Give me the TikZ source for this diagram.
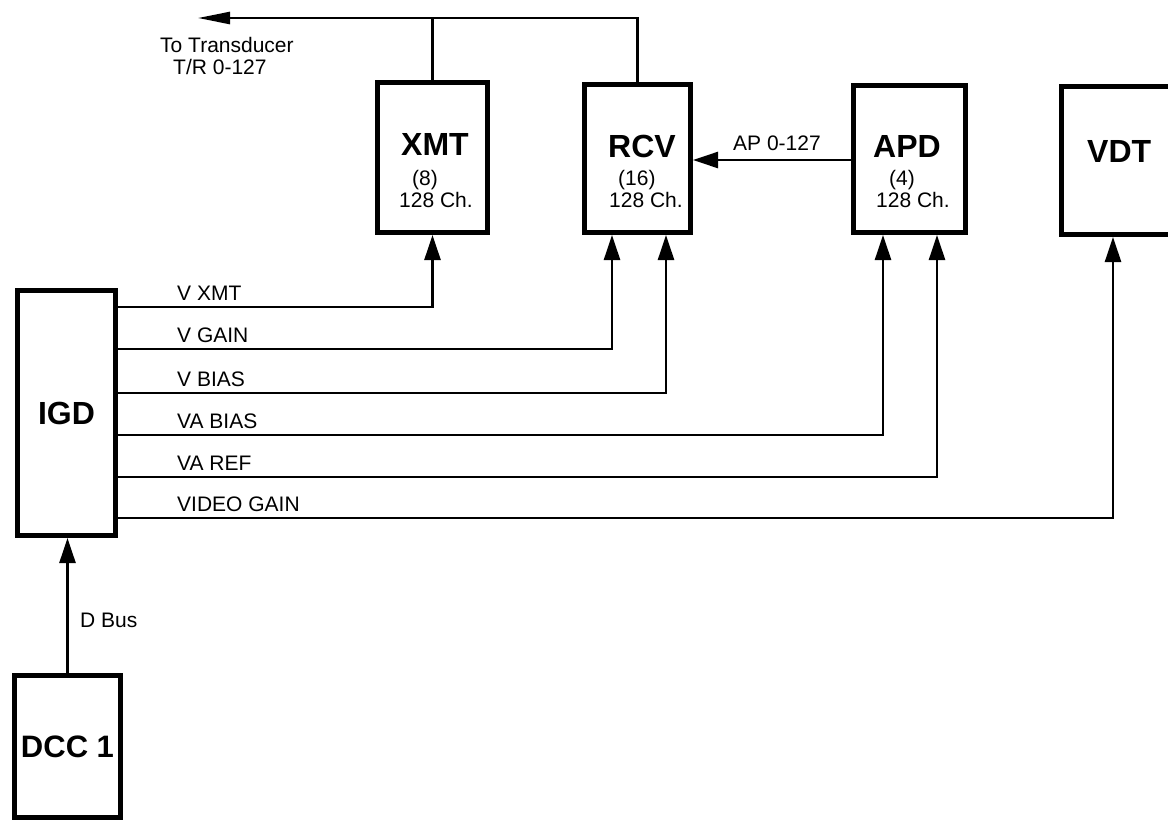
\documentclass[tikz,border=0pt]{standalone}
\usepackage{fontspec}
\setmainfont{Liberation Sans}
\usetikzlibrary{arrows.meta,positioning}

\tikzset{
  unit/.style={draw, line width=5pt, inner sep=0pt},
  wire/.style={line width=2.5pt},
  sig/.style={wire, -{Triangle[length=25pt,width=16pt]}},
  tag/.style={font=\fontsize{21}{23}\selectfont, anchor=base west, inner sep=0pt},
  big/.style={font=\fontsize{32}{34}\selectfont\bfseries, inner sep=0pt},
}

\begin{document}
\begin{tikzpicture}[x=1pt,y=-1pt]
\useasboundingbox (0,0) rectangle (1168,823);
%units
\node[unit, minimum width=110pt, minimum height=150pt] (xmt) at (432.5,157.5) {};
\node[unit, minimum width=106pt, minimum height=148pt] (rcv) at (637.5,158.5) {};
\node[unit, minimum width=112pt, minimum height=147pt] (apd) at (909.5,159) {};
\node[unit, minimum width=112pt, minimum height=148pt] (vdt) at (1117,160.5) {};
\node[unit, minimum width=98pt, minimum height=245pt] (igd) at (66.5,413) {};
\node[unit, minimum width=106pt, minimum height=142pt] (dcc) at (67.5,746.5) {};
%unit texts
\node[big, anchor=base west] (xmtName) at (401,155) {XMT};
\node[tag] (xmtNum) at (412,185) {(8)};
\node[tag] (xmtCh) at (399,207) {128 Ch.};
\node[big, anchor=base west] (rcvName) at (608,157) {RCV};
\node[tag] (rcvNum) at (618,185) {(16)};
\node[tag] (rcvCh) at (609,207) {128 Ch.};
\node[big, anchor=base west] (apdName) at (873,157) {APD};
\node[tag] (apdNum) at (889,185) {(4)};
\node[tag] (apdCh) at (876,207) {128 Ch.};
\node[big, anchor=base west] (vdtName) at (1087,162) {VDT};
\node[big] (igdName) at (igd.center) {IGD};
\node[big, font=\fontsize{31}{33}\selectfont\bfseries] (dccName) at (dcc.center) {DCC 1};
%to transducer
\coordinate (tip) at (198,18);
\draw[wire, -{Triangle[length=32pt,width=12pt]}] (rcv.north) |- (tip);
\draw[wire] (xmt.north) -- (xmt.north |- tip);
\node[tag] (toTr) at (160,52) {To Transducer};
\node[tag] (trCh) at (173,74) {T/R 0-127};
%AP
\draw[sig] (apd.west |- 0,160) -- (rcv.east |- 0,160);
\node[tag] (apLbl) at (733,150) {AP 0-127};
%control lines
\draw[sig] (igd.east |- 0,307) -| (xmt.south);
\node[tag] (vXmt) at (177,300) {V XMT};
\draw[sig] (igd.east |- 0,349) -| ([xshift=-25.5pt]rcv.south);
\node[tag] (vGain) at (177,342) {V GAIN};
\draw[sig] (igd.east |- 0,393) -| ([xshift=28.5pt]rcv.south);
\node[tag] (vBias) at (177,386) {V BIAS};
\draw[sig] (igd.east |- 0,435) -| ([xshift=-26.5pt]apd.south);
\node[tag] (vaBias) at (177,428) {VA BIAS};
\draw[sig] (igd.east |- 0,477) -| ([xshift=27.5pt]apd.south);
\node[tag] (vaRef) at (177,470) {VA REF};
\draw[sig] (igd.east |- 0,518) -| ([xshift=-4pt]vdt.south);
\node[tag] (vidGain) at (177,511) {VIDEO GAIN};
%D bus
\draw[sig] (dcc.north) -- (dcc.north |- igd.south);
\node[tag] (dBus) at (80,627) {D Bus};
\end{tikzpicture}
\end{document}
